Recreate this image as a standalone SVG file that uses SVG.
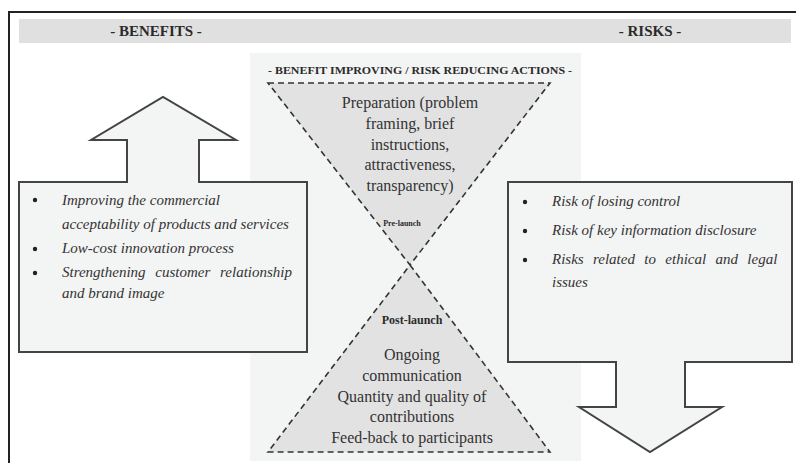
<svg xmlns="http://www.w3.org/2000/svg" width="796" height="463" viewBox="0 0 796 463">
<style>
.hdr{font-family:"Liberation Serif",serif;font-weight:bold;fill:#2a2a2a;text-anchor:middle}
.tri{font-family:"Liberation Serif",serif;font-size:16px;fill:#333;text-anchor:middle}
.it{font-family:"Liberation Serif",serif;font-style:italic;font-size:15px;fill:#333}
.box{fill:#f3f4f4;stroke:#444;stroke-width:2;stroke-linejoin:miter}
.hg{fill:#e2e2e2;stroke:#333;stroke-width:1.6;stroke-dasharray:6,4}
.dot{fill:#222}
</style>
<rect x="0" y="0" width="796" height="463" fill="#ffffff"/>
<g id="frame">
<line x1="8" y1="12" x2="796" y2="12" stroke="#222" stroke-width="2"/>
<line x1="9" y1="12" x2="9" y2="463" stroke="#222" stroke-width="2"/>
</g>
<g id="header">
<rect x="19" y="19" width="772" height="24" fill="#e0e0e0"/>
<text class="hdr" x="156" y="36" font-size="15">- BENEFITS -</text>
<text class="hdr" x="650" y="36" font-size="15">- RISKS -</text>
</g>
<g id="actions-panel">
<rect x="250" y="53" width="331" height="408" fill="#f3f4f4"/>
<text class="hdr" x="420" y="74" font-size="10.5" textLength="304" lengthAdjust="spacingAndGlyphs">- BENEFIT IMPROVING / RISK REDUCING ACTIONS -</text>
</g>
<g id="pre-launch">
<polygon class="hg" points="268,83 550,83 410,265"/>
<text class="tri" x="410" y="108">Preparation (problem</text>
<text class="tri" x="410" y="129">framing, brief</text>
<text class="tri" x="410" y="150">instructions,</text>
<text class="tri" x="410" y="170">attractiveness,</text>
<text class="tri" x="410" y="191">transparency)</text>
<text class="hdr" x="402" y="226" font-size="8">Pre-launch</text>
</g>
<g id="post-launch">
<polygon class="hg" points="410,265 550,452 268,452"/>
<text class="hdr" x="412" y="324" font-size="12">Post-launch</text>
<text class="tri" x="412" y="360">Ongoing</text>
<text class="tri" x="412" y="381">communication</text>
<text class="tri" x="412" y="402">Quantity and quality of</text>
<text class="tri" x="412" y="422">contributions</text>
<text class="tri" x="412" y="443">Feed-back to participants</text>
</g>
<g id="benefits">
<path class="box" d="M19,182 H127 V140 H91 L163,97 L236,140 H199 V182 H307 V352 H19 Z"/>
<circle class="dot" cx="35" cy="200" r="2.2"/>
<circle class="dot" cx="35" cy="249" r="2.2"/>
<circle class="dot" cx="35" cy="273" r="2.2"/>
<text class="it" x="62" y="205">Improving the commercial</text>
<text class="it" x="62" y="229">acceptability of products and services</text>
<text class="it" x="62" y="253">Low-cost innovation process</text>
<text class="it" x="62" y="277" word-spacing="6">Strengthening customer relationship</text>
<text class="it" x="62" y="298">and brand image</text>
</g>
<g id="risks">
<path class="box" d="M508,182 H792 V362 H685 V407 H722 L650,452 L579,407 H616 V362 H508 Z"/>
<circle class="dot" cx="525" cy="202" r="2.2"/>
<circle class="dot" cx="525" cy="231" r="2.2"/>
<circle class="dot" cx="525" cy="260" r="2.2"/>
<text class="it" x="552" y="206">Risk of losing control</text>
<text class="it" x="552" y="235">Risk of key information disclosure</text>
<text class="it" x="552" y="264" word-spacing="5.6">Risks related to ethical and legal</text>
<text class="it" x="552" y="287">issues</text>
</g>
<g id="connectors"></g>
</svg>
